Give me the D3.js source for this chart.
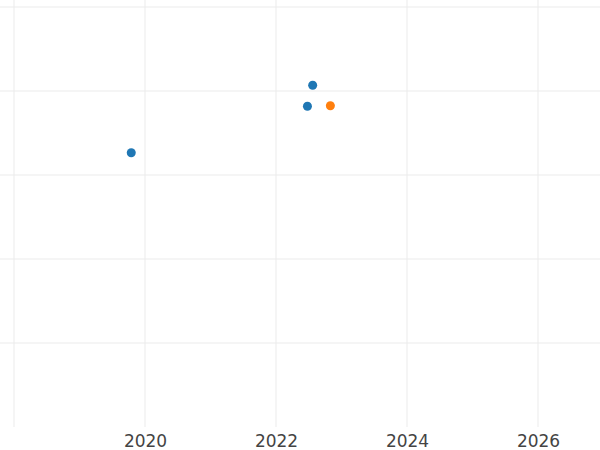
<!DOCTYPE html>
<html>
<head>
<meta charset="utf-8">
<script src="https://cdn.jsdelivr.net/npm/d3@7"></script>
<style>
  html, body { margin: 0; padding: 0; background: #ffffff; }
  svg { display: block; }
</style>
</head>
<body>
<svg id="chart" width="600" height="450"></svg>
<script>
// Data
const seriesNames = ["A", "B"];
const seriesAYears = [2019.79, 2022.56, 2022.48];
const seriesAValues = [3.265, 4.068, 3.818];
const seriesBYears = [2022.83];
const seriesBValues = [3.825];
const xTickValues = [2018, 2020, 2022, 2024, 2026];
const xTickLabels = ["", "2020", "2022", "2024", "2026"];
const yGridValues = [1, 2, 3, 4, 5];
const colors = ["#1f77b4", "#ff7f0e"];

const W = 600, H = 450;
const plotTop = 0, plotBottom = 427;
const svg = d3.select("#chart");

const x = d3.scaleLinear().domain([2018, 2026]).range([14, 538]);
const y = d3.scaleLinear().domain([0, 5]).range([427, 7]);

const grid = svg.append("g").attr("class", "grid");
grid.selectAll("line.v").data(xTickValues).join("line")
  .attr("class", "v")
  .attr("x1", d => x(d)).attr("x2", d => x(d))
  .attr("y1", plotTop).attr("y2", plotBottom)
  .attr("stroke", "#ebebeb").attr("stroke-width", 1);
grid.selectAll("line.h").data(yGridValues).join("line")
  .attr("class", "h")
  .attr("x1", 0).attr("x2", W)
  .attr("y1", d => y(d)).attr("y2", d => y(d))
  .attr("stroke", "#ebebeb").attr("stroke-width", 1);

const xAxis = d3.axisBottom(x)
  .tickValues(xTickValues)
  .tickFormat((d, i) => xTickLabels[i])
  .tickSize(0);
const gx = svg.append("g").attr("transform", "translate(0,0)").call(xAxis);
gx.select(".domain").remove();
gx.selectAll("text")
  .attr("y", 447).attr("dy", null)
  .attr("fill", "#444444")
  .style("font-family", "'DejaVu Sans', sans-serif")
  .style("font-size", "17px");

const series = [
  { name: seriesNames[0], years: seriesAYears, values: seriesAValues, color: colors[0] },
  { name: seriesNames[1], years: seriesBYears, values: seriesBValues, color: colors[1] }
];

series.forEach(s => {
  const pts = s.years.map((yr, i) => ({ year: yr, value: s.values[i] }));
  svg.append("g").selectAll("circle").data(pts).join("circle")
    .attr("cx", d => x(d.year))
    .attr("cy", d => y(d.value))
    .attr("r", 4.5)
    .attr("fill", s.color);
});
</script>
</body>
</html>
